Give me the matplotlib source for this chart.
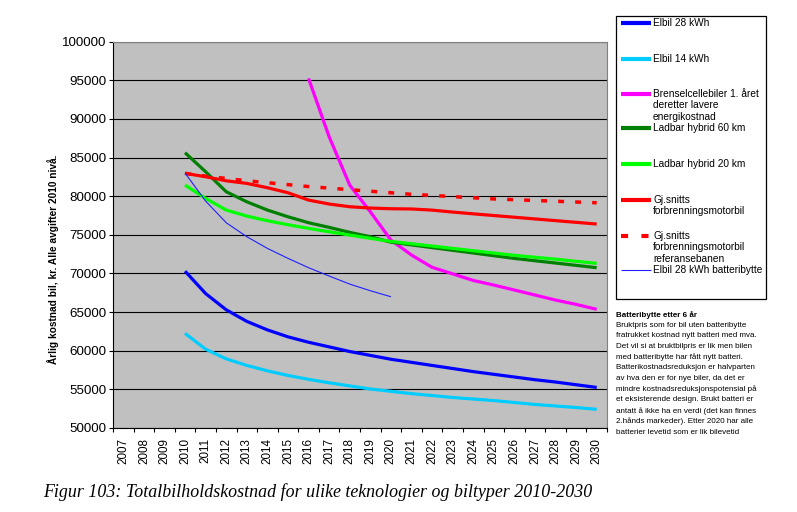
import matplotlib.pyplot as plt
from matplotlib.lines import Line2D
from matplotlib.patches import Rectangle

# Category axis 2007-2030, data from 2010
years = list(range(2007, 2031))
years_main = list(range(2010, 2031))
years_fuelcell = list(range(2016, 2031))
years_swap = list(range(2010, 2021))

elbil_28 = [70300, 67400, 65300, 63800, 62700, 61800, 61100, 60500, 59900, 59400,
            58900, 58500, 58100, 57700, 57300, 56950, 56600, 56250, 55950, 55600, 55250]
elbil_14 = [62250, 60200, 58950, 58100, 57400, 56800, 56300, 55850, 55450, 55050,
            54750, 54450, 54200, 53950, 53750, 53550, 53300, 53050, 52850, 52650, 52420]
brensel = [95250, 87700, 81440, 77990, 74330, 72390, 70800, 69950, 69100, 68500,
           67860, 67210, 66560, 66000, 65360]
hybrid_60 = [85630, 83170, 80580, 79280, 78210, 77340, 76570, 75970, 75320, 74760,
             74050, 73700, 73350, 73000, 72650, 72300, 71950, 71650, 71350, 71050, 70750]
hybrid_20 = [81440, 79720, 78210, 77430, 76830, 76310, 75840, 75400, 74970, 74550,
             74150, 73850, 73550, 73250, 72950, 72650, 72350, 72100, 71850, 71580, 71310]
fossil = [82960, 82520, 82000, 81660, 81100, 80450, 79500, 78990, 78640, 78470,
          78380, 78350, 78200, 77950, 77720, 77500, 77280, 77060, 76840, 76620, 76400]
fossil_ref = [82960, 82600, 82300, 82000, 81750, 81500, 81250, 81050, 80850, 80650,
              80450, 80250, 80100, 79950, 79800, 79650, 79550, 79450, 79350, 79250, 79150]
elbil_28_swap = [83000, 79370, 76570, 74760, 73250, 71960, 70750, 69670, 68630, 67770, 66990]

series = [
    ("Elbil 28 kWh", years_main, elbil_28, "#0000ff", 2.3, "-"),
    ("Elbil 14 kWh", years_main, elbil_14, "#00ccff", 2.3, "-"),
    ("Brenselcellebiler 1. året\nderetter lavere\nenergikostnad", years_fuelcell, brensel, "#ff00ff", 2.3, "-"),
    ("Ladbar hybrid 60 km", years_main, hybrid_60, "#008000", 2.3, "-"),
    ("Ladbar hybrid 20 km", years_main, hybrid_20, "#00ff00", 2.3, "-"),
    ("Gj.snitts\nforbrenningsmotorbil", years_main, fossil, "#ff0000", 2.3, "-"),
    ("Gj.snitts\nforbrenningsmotorbil\nreferansebanen", years_main, fossil_ref, "#ff0000", 2.5, (0, (1.7, 3.2))),
    ("Elbil 28 kWh batteribytte", years_swap, elbil_28_swap, "#2020ff", 0.8, "-"),
]

note_title = "Batteribytte etter 6 år"
note_lines = [
    "Bruktpris som for bil uten batteribytte",
    "fratrukket kostnad nytt batteri med mva.",
    "Det vil si at bruktbilpris er lik men bilen",
    "med batteribytte har fått nytt batteri.",
    "Batterikostnadsreduksjon er halvparten",
    "av hva den er for nye biler, da det er",
    "mindre kostnadsreduksjonspotensial på",
    "et eksisterende design. Brukt batteri er",
    "antatt å ikke ha en verdi (det kan finnes",
    "2.hånds markeder). Etter 2020 har alle",
    "batterier levetid som er lik bilevetid",
]

plt.rcParams['font.family'] = ['Liberation Sans', 'DejaVu Sans']

W, H = 797, 512
fig = plt.figure(figsize=(W / 100, H / 100), dpi=100)
ax = fig.add_axes([113 / W, 1 - 428 / H, (607 - 113) / W, (428 - 41.7) / H])
ax.set_facecolor('#c0c0c0')

for label, xs, ys, color, lw, ls in series:
    idx = [y - years[0] for y in xs]
    ax.plot(idx, ys, color=color, lw=lw, ls=ls, solid_capstyle='butt')

ax.set_xlim(-0.5, len(years) - 0.5)
ax.set_ylim(50000, 100000)
ax.set_yticks(range(50000, 100001, 5000))
ax.set_xticks(range(len(years)))
ax.set_xticklabels([str(y) for y in years], rotation=90, fontsize=8.4)
ax.set_xticks([i - 0.5 for i in range(len(years) + 1)], minor=True)
ax.tick_params(axis='x', which='major', length=0, pad=7)
ax.tick_params(axis='x', which='minor', length=3, width=0.8, direction='out')
ax.tick_params(axis='y', length=3, width=0.8, direction='out', labelsize=9.6, pad=2)
ax.yaxis.grid(True, color='black', lw=0.8)
ax.set_axisbelow(True)
for side in ['left', 'bottom']:
    ax.spines[side].set_color('black')
    ax.spines[side].set_linewidth(0.8)
for side in ['top', 'right']:
    ax.spines[side].set_color('#808080')
    ax.spines[side].set_linewidth(0.8)

# y-axis title
fig.text(53.5 / W, 1 - 259.5 / H, "Årlig kostnad bil, kr. Alle avgifter 2010 nivå.",
         rotation=90, ha='center', va='center', fontsize=7.3, fontweight='bold')

# legend drawn as a box on the right
fig.patches.append(Rectangle((616 / W, 1 - 299 / H), (766 - 616) / W, (299 - 16) / H,
                             transform=fig.transFigure, facecolor='white',
                             edgecolor='black', lw=0.9))
entry_y = [22.7, 58.7, 94, 128.3, 164.3, 200, 236, 270.3]
for (label, xs, ys, color, lw, ls), yy in zip(series, entry_y):
    lw_leg = 3.0 if lw > 1 else 0.8
    fig.add_artist(Line2D([621 / W, 651 / W], [1 - yy / H, 1 - yy / H],
                          transform=fig.transFigure, color=color, lw=lw_leg, ls=ls,
                          solid_capstyle='butt'))
    for k, part in enumerate(label.split("\n")):
        fig.text(653 / W, 1 - (yy + k * 11.3) / H, part, ha='left', va='center',
                 fontsize=7.3)

# note below legend
fig.text(616 / W, 1 - 314.7 / H, note_title, ha='left', va='center',
         fontsize=5.8, fontweight='bold')
for i, line in enumerate(note_lines):
    fig.text(616 / W, 1 - (325.3 + i * 10.67) / H, line, ha='left', va='center',
             fontsize=5.8)

# caption
fig.text(43 / W, 1 - 492 / H,
         "Figur 103: Totalbilholdskostnad for ulike teknologier og biltyper 2010-2030",
         ha='left', va='center', fontsize=12.9, style='italic', family='Liberation Serif')

fig.savefig('out.png', dpi=100)
